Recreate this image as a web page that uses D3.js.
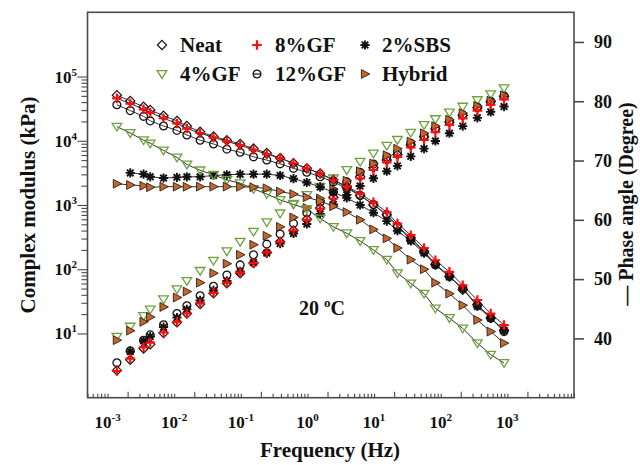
<!DOCTYPE html>
<html>
<head>
<meta charset="utf-8">
<script src="https://cdn.jsdelivr.net/npm/d3@7"></script>
<style>
  html, body { margin: 0; padding: 0; background: #fff; }
  svg { display: block; }
  text { font-family: "Liberation Serif", "Times New Roman", serif; font-weight: bold; fill: #111; }
</style>
</head>
<body>
<svg id="chart" width="640" height="465"></svg>
<script>
// Frequency sweep (Hz), shared by all binders
const freq = [0.00138, 0.00219, 0.00347, 0.00437, 0.00692, 0.0110, 0.0155, 0.0245, 0.0389, 0.0617,
              0.0977, 0.155, 0.245, 0.389, 0.617, 0.977, 1.55, 2.45, 3.89, 6.17,
              9.77, 15.5, 22.4, 35.5, 56.2, 83.2, 135, 214, 355, 562, 891];

// Complex modulus (kPa)
const modNeat   = [51300, 41700, 33900, 30200, 24500, 20400, 17000, 13800, 11700, 10200,
                   8910, 7590, 6460, 5370, 4470, 3720, 3090, 2450, 1910, 1410,
                   1000, 708, 468, 309, 191, 120, 77.6, 47.9, 28.2, 17.4, 11.2];
const mod8GF    = [45700, 38000, 30900, 27500, 22400, 18600, 15500, 13200, 11200, 9770,
                   8510, 7240, 6170, 5370, 4470, 3720, 3090, 2450, 1950, 1510,
                   1100, 776, 513, 339, 214, 138, 91.2, 56.2, 33.1, 20.4, 13.5];
const mod2SBS   = [null, 3160, 3020, 2750, 2630, 2690, 2750, 2750, 2880, 2950,
                   3020, 3020, 3020, 2880, 2570, 2240, 1910, 1580, 1290, 1000,
                   759, 562, 398, 275, 178, 117, 75.9, 50.1, 26.3, 17.4, 11.2];
const mod4GF    = [16600, 13200, 10200, 9120, 7080, 5500, 4270, 3470, 2950, 2450,
                   2190, 1780, 1480, 1200, 1020, 871, 617, 457, 363, 275,
                   200, 141, 87.1, 60.3, 41.7, 24.5, 17.4, 12.0, 7.08, 4.68, 3.47];
const mod12GF   = [36300, 29500, 24000, 20400, 17000, 14500, 12300, 10200, 8910, 7410,
                   6610, 5620, 5010, 4370, 3720, 3240, 2750, 2290, 1820, 1410,
                   1020, 708, 468, 288, 186, 117, 77.6, 50.1, 27.5, 17.4, 10.7];
const modHybrid = [2140, 2050, 1990, 1890, 1930, 1930, 1920, 1930, 1930, 1930,
                   1920, 1890, 1820, 1620, 1480, 1320, 1150, 955, 776, 589,
                   417, 302, 214, 141, 100, 61.7, 41.7, 27.5, 16.2, 10.7, 7.08];

// Phase angle (degree)
const phNeat   = [34.6, 36.4, 38.3, 39.0, 40.9, 42.7, 44.2, 45.8, 47.6, 49.3,
                  51.0, 52.7, 54.5, 56.3, 58.2, 60.1, 62.0, 63.8, 65.6, 67.3,
                  68.8, 70.1, 71.0, 72.6, 74.0, 75.3, 76.5, 77.6, 78.9, 79.9, 80.8];
const ph8GF    = [34.5, 36.6, 38.5, 39.3, 41.0, 42.8, 44.2, 45.9, 47.7, 49.4,
                  51.1, 52.7, 54.5, 56.3, 58.2, 60.0, 61.9, 63.6, 65.4, 67.0,
                  68.4, 69.7, 70.6, 72.2, 73.5, 74.8, 76.0, 77.1, 78.4, 79.4, 80.3];
const ph2SBS   = [null, 37.8, 39.6, 40.3, 41.9, 43.5, 44.9, 46.4, 48.1, 49.7,
                  51.3, 52.8, 54.4, 56.0, 57.7, 59.3, 61.0, 62.6, 64.2, 65.7,
                  67.0, 68.2, 69.1, 70.7, 72.0, 73.3, 74.6, 75.8, 77.2, 78.2, 79.1];
const ph4GF    = [40.3, 42.0, 43.8, 44.9, 46.6, 48.3, 49.7, 51.4, 53.1, 54.7,
                  56.3, 58.0, 59.6, 61.1, 62.7, 64.2, 65.6, 67.0, 68.4, 69.8,
                  71.2, 72.5, 73.5, 74.7, 76.0, 77.0, 78.1, 79.1, 80.2, 81.2, 82.2];
const ph12GF   = [35.9, 37.9, 39.7, 40.6, 42.3, 44.2, 45.5, 47.2, 48.8, 50.7,
                  52.4, 54.1, 55.9, 57.6, 59.4, 61.2, 63.0, 64.7, 66.4, 68.0,
                  69.4, 70.6, 71.5, 72.9, 74.2, 75.4, 76.6, 77.7, 79.0, 80.0, 80.9];
const phHybrid = [39.7, 41.3, 42.8, 43.6, 45.3, 46.9, 47.9, 49.4, 51.0, 52.6,
                  54.1, 55.8, 57.3, 58.8, 60.4, 62.0, 63.6, 65.2, 66.6, 68.2,
                  69.5, 70.9, 72.0, 73.2, 74.6, 75.8, 76.9, 78.0, 79.2, 80.1, 81.0];

// Axis labelling
const xDecades = [-3, -2, -1, 0, 1, 2, 3];
const yDecades = [1, 2, 3, 4, 5];
const phaseTicks = [40, 50, 60, 70, 80, 90];

// Legend layout order: first row, then second row
const legendRows = [["Neat", "8%GF", "2%SBS"], ["4%GF", "12%GF", "Hybrid"]];

const series = [
  { name: "Neat",   mod: modNeat,   phase: phNeat,   symbol: "diamond" },
  { name: "12%GF",  mod: mod12GF,   phase: ph12GF,   symbol: "circle" },
  { name: "2%SBS",  mod: mod2SBS,   phase: ph2SBS,   symbol: "star" },
  { name: "4%GF",   mod: mod4GF,   phase: ph4GF,     symbol: "tridown" },
  { name: "Hybrid", mod: modHybrid, phase: phHybrid, symbol: "triright" },
  { name: "8%GF",   mod: mod8GF,    phase: ph8GF,    symbol: "plus" }
];

const svg = d3.select("#chart");
const L = 87.5, R = 574, T = 12.3, B = 397.7;

const x  = d3.scaleLog().domain([5e-4, 1e4]).range([L, R]);
const yL = d3.scaleLog().domain([1, 1e6]).range([B, T]);
const yR = d3.scaleLinear().domain([30, 95]).range([B, T]);

const AXIS = "#4a4a4a";

// ---- axes ----
const xTickVals = [];
for (let n = -4; n <= 3; n++) for (let k = 1; k <= 9; k++) {
  const v = k * Math.pow(10, n);
  if (v >= 5e-4 * 0.999 && v <= 1e4 * 1.001) xTickVals.push(v);
}
xTickVals.push(1e4);
const xAxis = svg.append("g").attr("transform", `translate(0,${B})`)
  .call(d3.axisBottom(x).tickValues(xTickVals).tickSize(-4).tickSizeOuter(0).tickFormat(""));
xAxis.select(".domain").remove();
xAxis.selectAll(".tick line").attr("stroke", AXIS).attr("stroke-width", 1.1)
  .attr("y2", d => {
    const k = Math.round(d / Math.pow(10, Math.floor(Math.log10(d) + 1e-9)));
    return k === 2 ? -6 : -4;
  });

const yTickVals = [];
for (let n = 1; n <= 4; n++) for (let k = 1; k <= 9; k++) yTickVals.push(k * Math.pow(10, n));
yTickVals.push(1e5);
const yAxis = svg.append("g").attr("transform", `translate(${L},0)`)
  .call(d3.axisLeft(yL).tickValues(yTickVals).tickSize(6).tickSizeOuter(0).tickFormat(""));
yAxis.select(".domain").remove();
yAxis.selectAll(".tick line").attr("stroke", AXIS).attr("stroke-width", 1.1)
  .attr("x2", d => {
    const k = Math.round(d / Math.pow(10, Math.floor(Math.log10(d) + 1e-9)));
    return k === 1 ? -10 : -6;
  });

const rAxis = svg.append("g").attr("transform", `translate(${R},0)`)
  .call(d3.axisRight(yR).tickValues(phaseTicks).tickSize(10).tickSizeOuter(0).tickPadding(10));
rAxis.select(".domain").remove();
rAxis.selectAll(".tick line").attr("stroke", AXIS).attr("stroke-width", 1.6);
rAxis.selectAll(".tick text").attr("font-size", 18).attr("fill", "#111")
  .style("font-family", '"Liberation Serif", serif').style("font-weight", "bold");

// frame
svg.append("rect").attr("x", L).attr("y", T).attr("width", R - L).attr("height", B - T)
  .attr("fill", "none").attr("stroke", AXIS).attr("stroke-width", 1.6);

// power-of-ten labels
const xl = svg.append("g").selectAll("text").data(xDecades).join("text")
  .attr("x", d => x(Math.pow(10, d))).attr("y", 428).attr("text-anchor", "middle")
  .attr("font-size", 17);
xl.append("tspan").text("10");
xl.append("tspan").attr("dy", -7).attr("font-size", 11).text(d => String(d));

const yl = svg.append("g").selectAll("text").data(yDecades).join("text")
  .attr("x", 77).attr("y", d => yL(Math.pow(10, d)) + 6).attr("text-anchor", "end")
  .attr("font-size", 17);
yl.append("tspan").text("10");
yl.append("tspan").attr("dy", -7).attr("font-size", 11).text(d => String(d));

// axis titles
svg.append("text").attr("x", 330).attr("y", 457).attr("text-anchor", "middle")
  .attr("font-size", 21).text("Frequency (Hz)");
svg.append("text").attr("transform", "translate(35,205) rotate(-90)").attr("text-anchor", "middle")
  .attr("font-size", 21).text("Complex modulus (kPa)");
svg.append("text").attr("transform", "translate(633,204) rotate(-90)").attr("text-anchor", "middle")
  .attr("font-size", 20).text("\u2014 Phase angle (Degree)");

// temperature note
const tNote = svg.append("text").attr("x", 299).attr("y", 315).attr("font-size", 20);
tNote.append("tspan").text("20 ");
tNote.append("tspan").attr("dy", -8).attr("font-size", 13).text("o");
tNote.append("tspan").attr("dy", 8).text("C");

// ---- markers ----
const GREEN = "#6ea23e", BROWN = "#c4662b", RED = "#ff0d0d";
function drawSymbol(g, type, legend) {
  switch (type) {
    case "diamond":
      g.append("path").attr("d", "M0,-4.6L4.6,0L0,4.6L-4.6,0Z")
        .attr("fill", "none").attr("stroke", "#111").attr("stroke-width", 1.2); break;
    case "plus":
      g.append("path").attr("d", "M-4.8,0H4.8M0,-4.8V4.8")
        .attr("stroke", RED).attr("stroke-width", 2.2); break;
    case "star":
      g.append("path").attr("d", "M-4.6,0H4.6M0,-4.6V4.6M-3.3,-3.3L3.3,3.3M-3.3,3.3L3.3,-3.3")
        .attr("stroke", "#111").attr("stroke-width", 1.9); break;
    case "tridown":
      g.append("path").attr("d", "M-4.8,-3.3L4.8,-3.3L0,4.4Z")
        .attr("fill", "none").attr("stroke", GREEN).attr("stroke-width", 1.3); break;
    case "circle":
      g.append("circle").attr("r", 3.9).attr("fill", "none")
        .attr("stroke", "#111").attr("stroke-width", 1.3);
      if (legend) g.append("path").attr("d", "M-3.9,0H3.9").attr("stroke", "#111").attr("stroke-width", 1.2);
      break;
    case "triright":
      g.append("path").attr("d", "M-3.6,-4.4L4.8,0L-3.6,4.4Z")
        .attr("fill", BROWN).attr("stroke", "#2b2018").attr("stroke-width", 0.9); break;
  }
}

const plot = svg.append("g");

// modulus lines
const line = d3.line().defined(d => d.v != null).x(d => x(d.f)).y(d => yL(d.v));
series.forEach(s => {
  const pts = freq.map((f, i) => ({ f, v: s.mod[i] }));
  plot.append("path").datum(pts).attr("d", line)
    .attr("fill", "none").attr("stroke", "#333").attr("stroke-width", 1);
});

// phase and modulus markers
series.forEach(s => {
  const ph = freq.map((f, i) => ({ f, v: s.phase[i] })).filter(d => d.v != null);
  plot.append("g").selectAll("g").data(ph).join("g")
    .attr("transform", d => `translate(${x(d.f)},${yR(d.v)})`)
    .each(function () { drawSymbol(d3.select(this), s.symbol, false); });
});
series.forEach(s => {
  const md = freq.map((f, i) => ({ f, v: s.mod[i] })).filter(d => d.v != null);
  plot.append("g").selectAll("g").data(md).join("g")
    .attr("transform", d => `translate(${x(d.f)},${yL(d.v)})`)
    .each(function () { drawSymbol(d3.select(this), s.symbol, false); });
});

// ---- legend ----
const symX = [162, 257, 365], txtX = [180, 275, 382], rowY = [45, 74];
const byName = Object.fromEntries(series.map(s => [s.name, s]));
legendRows.forEach((row, r) => row.forEach((name, c) => {
  const g = svg.append("g").attr("transform", `translate(${symX[c]},${rowY[r]})`);
  drawSymbol(g, byName[name].symbol, true);
  svg.append("text").attr("x", txtX[c]).attr("y", rowY[r] + 7).attr("font-size", 21).text(name);
}));
</script>
</body>
</html>
